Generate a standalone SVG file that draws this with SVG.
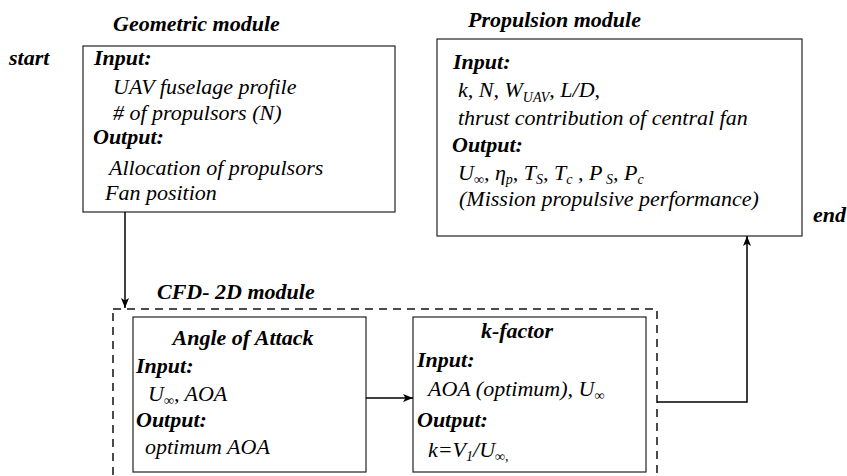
<svg xmlns="http://www.w3.org/2000/svg" width="847" height="476" viewBox="0 0 847 476">
<style>
text{font-family:"Liberation Serif","Times New Roman",serif;fill:#000;}
.t{font-size:22px;font-style:italic;}
.b{font-size:22px;font-style:italic;font-weight:bold;}
.s{font-size:14px;}
.box{fill:#fff;stroke:#222;stroke-width:1.2;}
.dash{fill:none;stroke:#111;stroke-width:1.5;stroke-dasharray:8,6;}
.line{fill:none;stroke:#000;stroke-width:1.5;}
</style>
<defs>
<marker id="arr" viewBox="0 0 10 8" refX="10" refY="4" markerWidth="10" markerHeight="8" markerUnits="userSpaceOnUse" orient="auto">
<path d="M0,0 L10,4 L0,8 L2.5,4 Z" fill="#000"/>
</marker>
</defs>

<text id="start" class="b" x="9" y="65">start</text>
<text id="end" class="b" x="813" y="222">end</text>

<g id="cfd-module">
<rect class="dash" x="113" y="309" width="544" height="190"/>
<text class="b" x="157" y="299">CFD- 2D module</text>
</g>

<g id="geometric-module">
<text class="b" x="113" y="31">Geometric module</text>
<rect class="box" x="83" y="46" width="312" height="166"/>
<text class="b" x="94" y="65">Input:</text>
<text class="t" x="113" y="94">UAV fuselage profile</text>
<text class="t" x="113" y="120"># of propulsors (N)</text>
<text class="b" x="93" y="144">Output:</text>
<text class="t" x="109" y="175">Allocation of propulsors</text>
<text class="t" x="105" y="200">Fan position</text>
</g>

<g id="propulsion-module">
<text class="b" x="468" y="27">Propulsion module</text>
<rect class="box" x="437" y="39" width="365" height="197"/>
<text class="b" x="453" y="69">Input:</text>
<text class="t" x="458" y="97">k, N, W<tspan class="s" dy="5">UAV</tspan><tspan dy="-5">, L/D,</tspan></text>
<text class="t" x="458" y="125">thrust contribution of central fan</text>
<text class="b" x="452" y="152">Output:</text>
<text class="t" x="458" y="180">U<tspan class="s" dy="4">∞</tspan><tspan dy="-4">, η</tspan><tspan class="s" dy="4">p</tspan><tspan dy="-4">, T</tspan><tspan class="s" dy="4">S</tspan><tspan dy="-4">, T</tspan><tspan class="s" dy="4">c</tspan><tspan dy="-4"> , P</tspan><tspan class="s" dy="4"> S</tspan><tspan dy="-4">, P</tspan><tspan class="s" dy="4">c</tspan></text>
<text class="t" x="459" y="206">(Mission propulsive performance)</text>
</g>

<g id="angle-of-attack">
<rect class="box" x="133" y="317" width="233" height="155"/>
<text class="b" x="243" y="345" text-anchor="middle">Angle of Attack</text>
<text class="b" x="136" y="373">Input:</text>
<text class="t" x="148" y="401">U<tspan class="s" dy="4">∞</tspan><tspan dy="-4">, AOA</tspan></text>
<text class="b" x="136" y="427">Output:</text>
<text class="t" x="145" y="454">optimum AOA</text>
</g>

<g id="k-factor">
<rect class="box" x="413" y="317" width="233" height="155"/>
<text class="b" x="517" y="338" text-anchor="middle">k-factor</text>
<text class="b" x="417" y="367">Input:</text>
<text class="t" x="428" y="396">AOA (optimum), U<tspan class="s" dy="4">∞</tspan></text>
<text class="b" x="417" y="427">Output:</text>
<text class="t" x="428" y="457">k=V<tspan class="s" dy="4">1</tspan><tspan dy="-4">/U</tspan><tspan class="s" dy="4">∞,</tspan></text>
</g>

<g id="connectors">
<path class="line" d="M125,212 L125,308" marker-end="url(#arr)"/>
<path class="line" d="M366,398 L413,398" marker-end="url(#arr)"/>
<path class="line" d="M657,402 L747,402 L747,236" marker-end="url(#arr)"/>
</g>
</svg>
